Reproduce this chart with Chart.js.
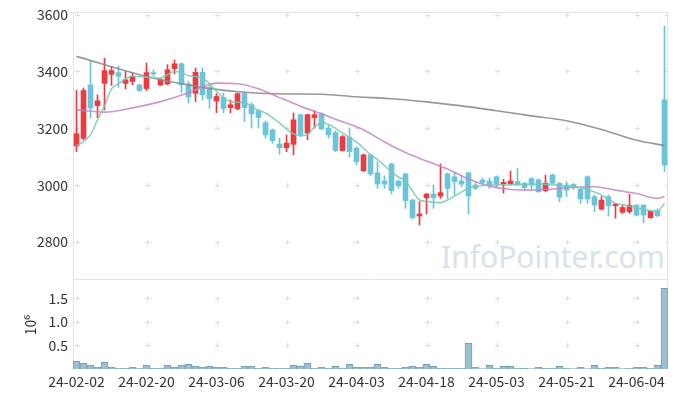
<!DOCTYPE html>
<html>
<head>
<meta charset="utf-8">
<script src="https://cdn.jsdelivr.net/npm/chart.js@4.4.1/dist/chart.umd.min.js"></script>
<style>
  html, body { margin: 0; padding: 0; background: #fff; }
  #wrap { position: relative; width: 677px; height: 398px; overflow: hidden; }
  #mark { position: absolute; left: 441px; top: 236px; font: 30px "Noto Sans"; color: #d6e3ea; white-space: nowrap; }
  #priceChart { position: absolute; left: 0; top: 0; }
  #volChart { position: absolute; left: 0; top: 280px; }
</style>
</head>
<body>
<div id="wrap">
  <div id="mark">InfoPointer.com</div>
  <canvas id="priceChart" width="677" height="281"></canvas>
  <canvas id="volChart" width="677" height="118"></canvas>
</div>
<script>
// trading days (yy-mm-dd)
const dates = [
  "24-02-02","24-02-05","24-02-06","24-02-07","24-02-08","24-02-13","24-02-14","24-02-15","24-02-16","24-02-19",
  "24-02-20","24-02-21","24-02-22","24-02-23","24-02-26","24-02-27","24-02-28","24-02-29","24-03-04","24-03-05",
  "24-03-06","24-03-07","24-03-08","24-03-11","24-03-12","24-03-13","24-03-14","24-03-15","24-03-18","24-03-19",
  "24-03-20","24-03-21","24-03-22","24-03-25","24-03-26","24-03-27","24-03-28","24-03-29","24-04-01","24-04-02",
  "24-04-03","24-04-04","24-04-05","24-04-08","24-04-09","24-04-11","24-04-12","24-04-15","24-04-16","24-04-17",
  "24-04-18","24-04-19","24-04-22","24-04-23","24-04-24","24-04-25","24-04-26","24-04-29","24-04-30","24-05-02",
  "24-05-03","24-05-07","24-05-08","24-05-09","24-05-10","24-05-13","24-05-14","24-05-16","24-05-17","24-05-20",
  "24-05-21","24-05-22","24-05-23","24-05-24","24-05-27","24-05-28","24-05-29","24-05-30","24-05-31","24-06-03",
  "24-06-04","24-06-05","24-06-07","24-06-10","24-06-11"
];
const labelEvery = 10;

const opens = [
  3138,3165,3353,3280,3358,3390,3396,3358,3365,3353, 3340,3396,3352,3356,3410,3427,3356,3323,3397,3344,
  3296,3309,3273,3269,3322,3283,3262,3220,3195,3145, 3132,3144,3248,3183,3238,3251,3201,3185,3122,3169,
  3130,3051,3107,3044,3015,3075,3015,3040,2948,2892, 2956,2969,2962,3040,3030,3015,3044,3001,3018,3015,
  3030,3004,3005,3013,3007,3024,3019,2981,3036,3007, 3001,3003,2986,3030,2960,2916,2960,2928,2905,2907,
  2930,2930,2886,2911,3300
];
const closes = [
  3181,3333,3271,3297,3403,3403,3383,3371,3383,3333, 3396,3391,3371,3406,3427,3353,3310,3397,3318,3304,
  3312,3270,3283,3322,3273,3251,3238,3177,3157,3132, 3148,3230,3177,3248,3248,3198,3177,3122,3171,3118,
  3083,3107,3040,3004,3004,2981,2998,2946,2886,2899, 2969,2956,2974,2989,3013,3004,2962,2989,3010,3001,
  3004,3010,3015,3001,2992,3001,2977,3007,3007,2958, 2983,2993,2952,2952,2930,2948,2928,2934,2922,2930,
  2895,2895,2909,2893,3071
];
const highs = [
  3333,3342,3435,3318,3447,3418,3420,3400,3395,3355, 3430,3406,3377,3424,3441,3430,3365,3412,3413,3350,
  3322,3324,3300,3324,3326,3290,3266,3226,3198,3166, 3177,3254,3250,3250,3263,3255,3212,3191,3175,3201,
  3135,3110,3110,3083,3033,3078,3018,3043,2950,2942, 2972,3001,3075,3043,3047,3036,3047,3008,3025,3025,
  3033,3021,3050,3060,3010,3026,3022,3036,3040,3010, 3013,3006,2990,3033,2966,2960,2966,2936,2930,2969,
  2932,2932,2911,2918,3559
];
const lows = [
  3118,3160,3236,3237,3265,3351,3344,3339,3353,3330, 3333,3383,3351,3353,3391,3325,3289,3294,3300,3271,
  3255,3254,3254,3265,3224,3201,3201,3166,3148,3109, 3118,3107,3171,3160,3201,3195,3166,3118,3120,3099,
  3071,3048,3033,2989,2989,2969,2989,2919,2881,2860, 2899,2919,2954,2954,2966,2995,2899,2984,3004,2989,
  2995,2972,3001,3001,2983,2988,2975,2977,3004,2942, 2960,2985,2936,2936,2907,2913,2892,2884,2901,2901,
  2892,2868,2884,2889,3048
];
// volume in thousands of shares
const volumeK = [
  170,121,85,35,142,35,14,14,35,10, 85,14,14,85,43,85,99,57,35,57,
  35,35,14,14,57,57,14,35,14,14, 14,85,57,121,14,35,14,57,14,99,
  35,35,35,99,35,14,14,35,57,35, 99,57,14,14,14,14,546,35,3,78,
  14,57,57,14,14,3,35,14,14,57, 14,3,35,3,78,14,35,35,3,14,
  35,35,14,78,1717
];

// moving averages: [candle index, value]
const ma5 = [
  [0,3138],[2,3177],[3,3230],[4,3279],[5,3339],[6,3357],[8,3383],[10,3380],[12,3377],[13,3389],
  [14,3400],[15,3396],[16,3385],[18,3377],[19,3357],[20,3330],[22,3294],[24,3290],[26,3263],[27,3254],
  [28,3237],[29,3219],[30,3198],[31,3181],[32,3174],[33,3179],[34,3204],[35,3220],[36,3214],[37,3200],
  [38,3183],[40,3152],[41,3131],[42,3107],[43,3091],[45,3047],[46,3029],[47,3015],[48,2980],[49,2948],
  [50,2943],[52,2939],[53,2948],[54,2962],[55,2976],[56,2990],[58,2999],[61,3001],[64,3003],[67,3003],
  [70,2997],[72,2992],[74,2976],[75,2966],[76,2950],[77,2937],[78,2932],[79,2927],[80,2922],[81,2915],
  [82,2911],[83,2909],[84,2937]
];
const ma20 = [
  [0,3265],[4,3257],[8,3272],[12,3294],[16,3325],[18,3346],[20,3359],[23,3357],[26,3339],[29,3308],
  [32,3278],[35,3251],[38,3223],[41,3195],[44,3152],[47,3115],[50,3085],[53,3057],[56,3022],[59,2997],
  [62,2985],[65,2983],[68,2987],[71,2993],[74,2995],[77,2983],[80,2971],[83,2954],[84,2960]
];
const ma60 = [
  [0,3453],[10,3382],[15,3357],[20,3337],[25,3325],[30,3321],[35,3320],[40,3311],[45,3304],[50,3293],
  [55,3279],[60,3262],[65,3244],[70,3227],[75,3196],[80,3158],[84,3140]
];

const priceTicks = [2800, 3000, 3200, 3400, 3600];
const volTicks = [500000, 1000000, 1500000];

const UP = "#eb3a40";
const DOWN = "#6cc4d9";
const FONT = "'Noto Sans CJK KR', 'Noto Sans', sans-serif";

function fullLine(pairs) {
  const arr = dates.map(() => null);
  pairs.forEach(p => { arr[p[0]] = p[1]; });
  return arr;
}

const candleColors = opens.map((o, i) => closes[i] >= o ? UP : DOWN);

// no extra label padding, the frame is fixed
function fixedWidth(s) {
  s.width = 73;
  s.paddingTop = 0; s.paddingBottom = 0;
}

// grid crosses + frame
const framePlugin = {
  id: "frame",
  beforeDatasetsDraw(chart, args, opts) {
    const { ctx, chartArea: a, scales } = chart;
    const xs = scales.x, ys = scales.y;
    ctx.save();
    ctx.strokeStyle = "#dedede";
    ctx.lineWidth = 1;
    ys.ticks.forEach(t => {
      const py = Math.round(ys.getPixelForValue(t.value)) + 0.5;
      dates.forEach((d, i) => {
        if (i % labelEvery) return;
        const px = Math.round(xs.getPixelForValue(i)) + 0.5;
        ctx.beginPath();
        ctx.moveTo(px - 2.5, py); ctx.lineTo(px + 2.5, py);
        ctx.moveTo(px, py - 2.5); ctx.lineTo(px, py + 2.5);
        ctx.stroke();
      });
      ctx.beginPath();
      ctx.moveTo(a.right - 3, py); ctx.lineTo(a.right, py);
      ctx.stroke();
    });
    ctx.strokeStyle = "#e2e2e2";
    ctx.beginPath();
    ctx.moveTo(a.left + 0.5, a.top); ctx.lineTo(a.left + 0.5, a.bottom);
    ctx.moveTo(a.right - 0.5, a.top); ctx.lineTo(a.right - 0.5, a.bottom);
    if (opts.top) { ctx.moveTo(a.left, a.top + 0.5); ctx.lineTo(a.right, a.top + 0.5); }
    ctx.moveTo(a.left, a.bottom - 0.5); ctx.lineTo(a.right, a.bottom - 0.5);
    ctx.stroke();
    ctx.restore();
  }
};

const maStyle = {
  type: "line", pointRadius: 0, borderWidth: 1.6, spanGaps: true,
  cubicInterpolationMode: "monotone", fill: false
};

new Chart(document.getElementById("priceChart"), {
  type: "bar",
  data: {
    labels: dates,
    datasets: [
      Object.assign({ label: "MA5", data: fullLine(ma5), borderColor: "rgba(125,200,180,0.85)" }, maStyle),
      Object.assign({ label: "MA20", data: fullLine(ma20), borderColor: "rgba(200,130,196,0.85)" }, maStyle),
      Object.assign({ label: "MA60", data: fullLine(ma60), borderColor: "rgba(140,140,140,0.9)" }, maStyle),
      {
        label: "body", data: opens.map((o, i) => [o, closes[i]]),
        backgroundColor: candleColors, barThickness: 5, minBarLength: 1, grouped: false
      },
      {
        label: "wick", data: lows.map((l, i) => [l, highs[i]]),
        backgroundColor: candleColors, barThickness: 1, grouped: false
      }
    ]
  },
  options: {
    responsive: false,
    animation: false,
    events: [],
    layout: { padding: { left: 0, right: 9, top: 12, bottom: 1 } },
    plugins: { legend: { display: false }, tooltip: { enabled: false }, frame: { top: true } },
    scales: {
      x: { type: "category", display: false, offset: true, grid: { display: false } },
      y: {
        min: 2667, max: 3609,
        afterFit: fixedWidth,
        afterBuildTicks: s => { s.ticks = priceTicks.map(v => ({ value: v })); },
        grid: { display: false, drawTicks: false },
        border: { display: false },
        ticks: { padding: 5, autoSkip: false, color: "#333", font: { family: FONT, size: 14 }, callback: v => String(v) }
      }
    }
  },
  plugins: [framePlugin]
});

new Chart(document.getElementById("volChart"), {
  type: "bar",
  data: {
    labels: dates,
    datasets: [{
      label: "volume", data: volumeK.map(v => v * 1000),
      backgroundColor: "#9cc0d0", borderColor: "#73a2b6", borderWidth: 1,
      barPercentage: 1, categoryPercentage: 1
    }]
  },
  options: {
    responsive: false,
    animation: false,
    events: [],
    layout: { padding: { left: 0, right: 9, top: 1, bottom: 0 } },
    plugins: { legend: { display: false }, tooltip: { enabled: false }, frame: { top: false } },
    scales: {
      x: {
        type: "category", offset: true,
        afterFit: s => { s.height = 29; s.paddingLeft = 0; s.paddingRight = 0; },
        grid: { display: false, drawTicks: false },
        border: { display: false },
        ticks: {
          autoSkip: false, maxRotation: 0, minRotation: 0, padding: 4,
          color: "#333", font: { family: FONT, size: 14 },
          callback: (v, i) => i % labelEvery === 0 ? dates[i] : ""
        }
      },
      y: {
        min: 0, max: 1872000,
        afterFit: fixedWidth,
        afterBuildTicks: s => { s.ticks = volTicks.map(v => ({ value: v })); },
        grid: { display: false, drawTicks: false },
        border: { display: false },
        ticks: { padding: 5, autoSkip: false, color: "#333", font: { family: FONT, size: 14 }, callback: v => (v / 1e6).toFixed(1) },
        title: { display: true, text: "10⁶", color: "#333", font: { family: FONT, size: 14 }, padding: { top: 22, bottom: 0 } }
      }
    }
  },
  plugins: [framePlugin]
});
</script>
</body>
</html>
